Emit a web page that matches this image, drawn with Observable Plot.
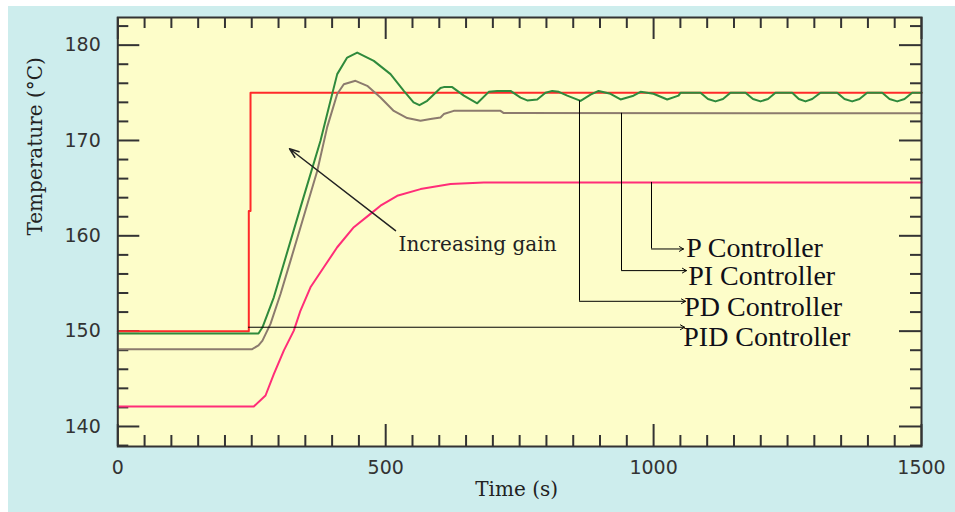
<!DOCTYPE html>
<html><head><meta charset="utf-8">
<script src="https://cdn.jsdelivr.net/npm/d3@7"></script>
<script src="https://cdn.jsdelivr.net/npm/@observablehq/plot@0.6"></script>
<style>
html,body{margin:0;padding:0;background:#fff;}
#wrap{position:relative;width:955px;height:512px;overflow:hidden;}
#bg{position:absolute;left:8px;top:6px;right:0;bottom:0;background:#cdeded;}
#chart{position:absolute;left:0;top:0;}
</style></head><body>
<div id="wrap"><div id="bg"></div><div id="chart"></div></div>
<script>
// ---- data (time in s, temperature in °C) ----
const setpoint = [[0,150],[244.5,150],[244.5,162.6],[247.7,162.6],[247.7,175],[1500,175]];

const pController = [[0,142.1],[253.8,142.1],[275.7,143.25],[291.2,145.5],[309.8,147.96],[328.5,150.06],
 [341,152.16],[359.6,154.6],[384.5,156.7],[409.5,158.8],[440.5,160.9],[471.6,162.3],[490.3,163.16],
 [521.5,164.2],[565,164.9],[621,165.43],[683.1,165.6],[1500,165.6]];

const piController = [[0,148.1],[250,148.1],[262.6,148.5],[270,149.0],[285,150.76],[303.7,153.9],[322.4,157.4],
 [341,160.9],[372.2,166.8],[390.8,171.4],[409.5,174.87],[421.8,175.9],[443.6,176.26],
 [465.5,175.73],[490.3,174.5],[515.1,173.1],[540.1,172.35],[564.9,172.07],[583.6,172.25],[602.3,172.41],
 [608.4,172.77],[627.1,173.11],[714.3,173.11],[720.4,172.87],[1500,172.85]];

const pdController = [[0,149.75],[262.6,149.75],[270,150.4],[291.2,153.55],
 [341,162.98],[378.3,169.97],[393.8,173.46],[409.5,176.96],[428.1,178.7],[446.8,179.22],
 [477.8,178.35],[509,176.96],[533.8,175.21],[552,174.0],[563,173.7],[577.5,174.16],[602.3,175.5],
 [608.4,175.6],[624.1,175.6],[645.8,174.7],[670.8,173.9],[692.4,175.1],[708.1,175.2],[733,175.2],
 [751.7,174.5],[764.1,174.2],[782.8,174.3],[798.3,175.0],[810.8,175.2],[823.1,175.1],[838.8,174.7],
 [863.7,174.15],[882.3,174.8],[897.3,175.2],[919.6,174.9],[938.3,174.3],[962.5,174.7],[975.6,175.1],
 [999.8,174.9],[1025.4,174.3],[1046.5,174.7],[1050.2,175.0],[1087.5,175.0],[1101.5,174.35],[1115.5,174.1],
 [1129.5,174.35],[1143.5,175.0],[1171.5,175.0],[1185.5,174.35],[1199.5,174.1],[1213.5,174.35],[1227.5,175.0],
 [1258.7,175.0],[1271,174.35],[1283.5,174.1],[1296,174.35],[1311.5,175.0],[1342.6,175.0],[1356.3,174.35],
 [1370.6,174.1],[1384.3,174.35],[1398.6,175.0],[1426.7,175.0],[1440.3,174.35],[1454.7,174.1],[1468.3,174.35],
 [1482.6,175.0],[1500,175.0]];

const xTickValues = [0, 500, 1000, 1500];
const yTickValues = [140, 150, 160, 170, 180];
const xMinorTicks = d3.range(50, 1500, 50).filter(v => v % 500 !== 0);
const yMinorTicks = d3.range(138, 183, 2).filter(v => v % 10 !== 0);

const xLabel = "Time (s)";
const yLabel = "Temperature (°C)";
const gainLabel = "Increasing gain";

const connectors = [
 {label:"P Controller",   fromX:996.1, fromY:165.6,  elbowY:158.62, toX:1055.8, textX:1061.0, textY:157.78},
 {label:"PI Controller",  fromX:940.1, fromY:172.85, elbowY:156.35, toX:1061.3, textX:1064.5, textY:154.85},
 {label:"PD Controller",  fromX:861.7, fromY:174.15, elbowY:153.13, toX:1059.5, textX:1057.2, textY:151.63},
 {label:"PID Controller", fromX:243.9, fromY:150.41, elbowY:150.41, toX:1057.7, textX:1055.3, textY:148.49}
];
const gainArrow = [{x1:518.3, y1:160.54, x2:320.5, y2:169.13}];
const gainText = [{x:523.9, y:158.44, label:gainLabel}];

// ---- layout ----
const W = 955, H = 512, mL = 117.3, mR = 34, mT = 17, mB = 66;
const innerW = W - mL - mR, innerH = H - mT - mB;
const ink = "#333";

const chart = Plot.plot({
  width: W, height: H,
  marginLeft: mL, marginRight: mR, marginTop: mT, marginBottom: mB,
  x: {domain: [0, 1500], axis: null},
  y: {domain: [137.9, 182.9], axis: null},
  style: {background: "transparent", overflow: "visible"},
  marks: [
    Plot.frame({fill: "#fdfdc9", stroke: "none"}),
    // ticks (inward)
    Plot.tickX(xTickValues, {x: d => d, insetTop: innerH - 22, stroke: ink, strokeWidth: 2}),
    Plot.tickX(xTickValues, {x: d => d, insetBottom: innerH - 22, stroke: ink, strokeWidth: 2}),
    Plot.tickX(xMinorTicks, {x: d => d, insetTop: innerH - 11, stroke: ink, strokeWidth: 2}),
    Plot.tickX(xMinorTicks, {x: d => d, insetBottom: innerH - 11, stroke: ink, strokeWidth: 2}),
    Plot.tickY(yTickValues, {y: d => d, insetRight: innerW - 22, stroke: ink, strokeWidth: 2}),
    Plot.tickY(yTickValues, {y: d => d, insetLeft: innerW - 22, stroke: ink, strokeWidth: 2}),
    Plot.tickY(yMinorTicks, {y: d => d, insetRight: innerW - 11, stroke: ink, strokeWidth: 2}),
    Plot.tickY(yMinorTicks, {y: d => d, insetLeft: innerW - 11, stroke: ink, strokeWidth: 2}),
    // series
    Plot.line(setpoint, {x: d => d[0], y: d => d[1], stroke: "#ff2a2a", strokeWidth: 2}),
    Plot.line(pController, {x: d => d[0], y: d => d[1], stroke: "#ff2d78", strokeWidth: 2}),
    Plot.line(piController, {x: d => d[0], y: d => d[1], stroke: "#8c7b6e", strokeWidth: 2}),
    Plot.line(pdController, {x: d => d[0], y: d => d[1], stroke: "#2f8a3c", strokeWidth: 2}),
    // connectors
    Plot.ruleX(connectors, {x: "fromX", y1: "fromY", y2: "elbowY", stroke: "#000", strokeWidth: 1}),
    Plot.arrow(connectors, {x1: "fromX", y1: "elbowY", x2: "toX", y2: "elbowY", stroke: "#000", strokeWidth: 1, headLength: 7, headAngle: 60}),
    Plot.text(connectors, {x: "textX", y: "textY", text: "label", textAnchor: "start", lineAnchor: "bottom",
      fontSize: 28, fontFamily: "Liberation Serif", fill: "#101018"}),
    // increasing gain
    Plot.arrow(gainArrow, {x1: "x1", y1: "y1", x2: "x2", y2: "y2", stroke: "#222", strokeWidth: 1.5, headLength: 10, headAngle: 40}),
    Plot.text(gainText, {x: "x", y: "y", text: "label", textAnchor: "start", lineAnchor: "bottom",
      fontSize: 20, fontFamily: "DejaVu Serif", fill: "#222"}),
    // axes labels
    Plot.axisX({ticks: xTickValues, tickFormat: d => String(d), tickSize: 0, tickPadding: 14, fontSize: 19, fontFamily: "DejaVu Sans", color: ink, label: null}),
    Plot.axisY({ticks: yTickValues, tickFormat: d => String(d), tickSize: 0, tickPadding: 17, fontSize: 19, fontFamily: "DejaVu Sans", color: ink, label: null}),
    Plot.text([xLabel], {frameAnchor: "bottom", dx: -3, dy: 49, lineAnchor: "bottom", fontSize: 20, fontFamily: "DejaVu Serif", fill: "#222"}),
    Plot.text([yLabel], {frameAnchor: "left", dx: -82, dy: 3.5, rotate: -90, lineAnchor: "middle", fontSize: 20, fontFamily: "DejaVu Serif", fill: "#222"}),
    Plot.frame({stroke: ink, strokeWidth: 2})
  ]
});
document.getElementById("chart").appendChild(chart);
</script></body></html>
